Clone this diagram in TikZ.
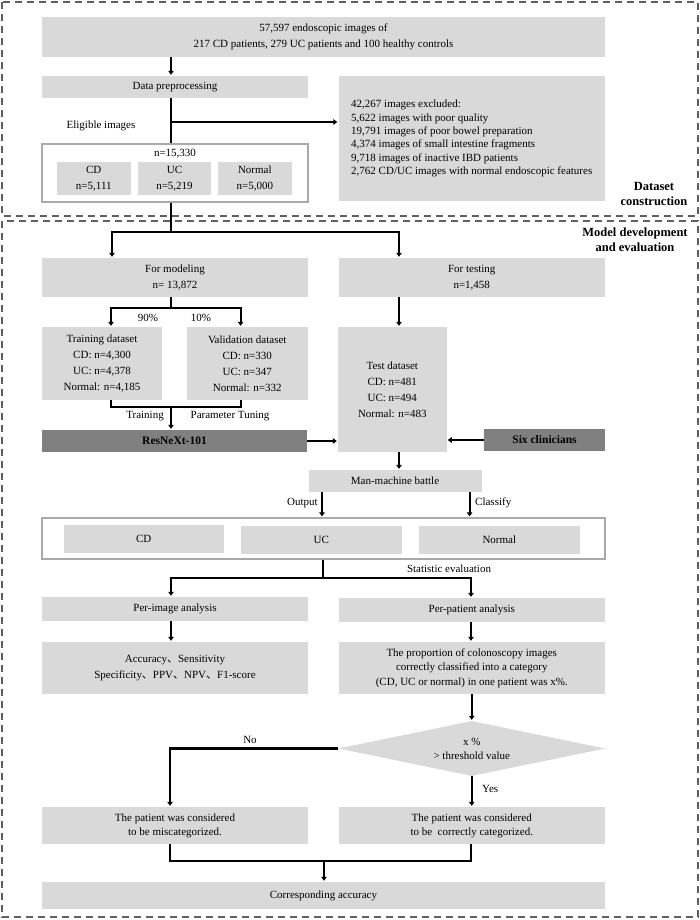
\documentclass[tikz,border=0pt]{standalone}
\usepackage{fontspec}
\setmainfont{Liberation Serif}
\newfontfamily\cjkfont{Noto Sans CJK SC}
\usetikzlibrary{arrows.meta,shapes.geometric}
\definecolor{boxgray}{HTML}{D9D9D9}
\definecolor{darkbox}{HTML}{808080}
\definecolor{framegray}{HTML}{A9A9A9}
\definecolor{dashgray}{HTML}{606060}
\begin{document}
\begin{tikzpicture}[x=1pt,y=-1pt,
  box/.style={fill=boxgray, inner sep=0pt, align=center, font=\fontsize{11}{16}\selectfont},
  wbox/.style={fill=white, draw=framegray, line width=1.2pt, inner sep=0pt},
  dbox/.style={fill=darkbox, inner sep=0pt, font=\bfseries\fontsize{11.5}{14}\selectfont},
  conn/.style={line width=2.2pt, black},
  arr/.style={conn, -{Triangle[length=4pt,width=5.5pt]}, shorten >=1pt},
  lbl/.style={font=\fontsize{11}{14}\selectfont, inner sep=0pt},
  sec/.style={font=\bfseries\fontsize{12.5}{14.5}\selectfont, align=center, inner sep=0pt},
  frame/.style={draw=dashgray, line width=1.4pt, dash pattern=on 7pt off 5pt}]
\useasboundingbox (0,0) rectangle (700,920);
\fill[white] (0,0) rectangle (700,920);
% frames
\draw[frame] (2,2) rectangle (698,216);
\draw[frame] (2,221) rectangle (698,917);
\node[sec] (dsl) at (654,194) {Dataset\\construction};
\node[sec] (mdl) at (635,239.5) {Model development\\and evaluation};
% column coordinates
\coordinate (cL) at (171,0);
\coordinate (cR) at (471,0);
\coordinate (aL) at (112,0);
\coordinate (aR) at (399,0);
\coordinate (bL) at (111,0);
\coordinate (bR) at (240.6,0);
\coordinate (oL) at (322,0);
\coordinate (oR) at (469.6,0);
\coordinate (nL) at (170,0);
% dataset construction
\node[box, minimum width=563pt, minimum height=40pt] (top) at (323.5,37) {57,597 endoscopic images of\\217 CD patients, 279 UC patients and 100 healthy controls};
\node[box, minimum width=266pt, minimum height=22pt] (prep) at (175,87) {Data preprocessing};
\node[box, minimum width=266.5pt, minimum height=125pt, align=left, font=\fontsize{11}{13.3}\selectfont] (excl) at (471.75,138.5) {42,267 images excluded:\\5,622 images with poor quality\\19,791 images of poor bowel preparation\\4,374 images of small intestine fragments\\9,718 images of inactive IBD patients\\2,762 CD/UC images with normal endoscopic features};
\node[wbox, minimum width=266pt, minimum height=58pt] (elig) at (175,173) {};
\node[lbl] (ntot) at (175,154) {n=15,330};
\node[box, minimum width=73.6pt, minimum height=33pt] (ecd) at (93.8,178.5) {CD\\n=5,111};
\node[box, minimum width=73pt, minimum height=33pt] (euc) at (174.5,178.5) {UC\\n=5,219};
\node[box, minimum width=73.6pt, minimum height=33pt] (enor) at (254.8,178.5) {Normal\\n=5,000};
\node[lbl] (elab) at (101,126) {Eligible images};
\draw[arr] (top.south -| cL) -- (prep.north -| cL);
\coordinate (br) at (171,122);
\draw[conn] (prep.south -| cL) -- (elig.north -| cL);
\draw[arr] (br) -- (br -| excl.west);
% model development
\node[box, minimum width=266pt, minimum height=39pt] (model) at (175,277.5) {For modeling\\n= 13,872};
\node[box, minimum width=266.5pt, minimum height=39pt] (testing) at (471.75,277.5) {For testing\\n=1,458};
\coordinate (s1) at (171,232);
\draw[conn] (elig.south -| s1) -- (s1);
\draw[arr] (s1) -| (model.north -| aL);
\draw[arr] (s1) -| (testing.north -| aR);
\node[box, minimum width=120pt, minimum height=73pt] (train) at (102,363.5) {Training dataset\\CD: n=4,300\\UC: n=4,378\\Normal: n=4,185};
\node[box, minimum width=121.5pt, minimum height=73pt] (val) at (247.25,363.5) {Validation dataset\\CD: n=330\\UC: n=347\\Normal: n=332};
\coordinate (s2) at (171,308);
\draw[conn] (model.south -| s2) -- (s2);
\draw[arr] (s2) -| (train.north -| bL);
\draw[arr] (s2) -| (val.north -| bR);
\node[lbl] (p90) at (148,318) {90\%};
\node[lbl] (p10) at (201,318) {10\%};
\node[box, minimum width=108.5pt, minimum height=125pt] (testds) at (392.3,389.5) {Test dataset\\CD: n=481\\UC: n=494\\Normal: n=483};
\draw[arr] (testing.south -| aR) -- (testds.north -| aR);
\node[dbox, minimum width=265pt, minimum height=22pt] (resnext) at (174.5,441) {ResNeXt-101};
\node[dbox, minimum width=121pt, minimum height=22pt] (six) at (544.5,440) {Six clinicians};
\coordinate (s3) at (171,407);
\draw[conn] (train.south -| bL) |- (s3);
\draw[conn] (val.south -| bR) |- (s3);
\draw[arr] (s3) -- (resnext.north -| s3);
\node[lbl] (ltrain) at (145,416) {Training};
\node[lbl] (ltune) at (230,416) {Parameter Tuning};
\draw[arr] (resnext.east) -- (resnext.east -| testds.west);
\draw[arr] (six.west) -- (six.west -| testds.east);
\node[box, minimum width=173pt, minimum height=22pt] (mm) at (395,481) {Man-machine battle};
\draw[arr] (testds.south -| aR) -- (mm.north -| aR);
\node[wbox, minimum width=563pt, minimum height=41pt] (outbox) at (323.5,538.5) {};
\node[box, minimum width=160.5pt, minimum height=28pt] (ocd) at (143.75,538.5) {CD};
\node[box, minimum width=160.6pt, minimum height=28pt] (ouc) at (321.3,540) {UC};
\node[box, minimum width=161.4pt, minimum height=28pt] (onor) at (499.3,540) {Normal};
\draw[arr] (mm.south -| oL) -- (outbox.north -| oL);
\draw[arr] (mm.south -| oR) -- (outbox.north -| oR);
\node[lbl, anchor=east] (lout) at (318,503) {Output};
\node[lbl, anchor=west] (lcla) at (475,503) {Classify};
% evaluation
\node[box, minimum width=266pt, minimum height=24pt] (perimg) at (175,609) {Per-image analysis};
\node[box, minimum width=266.5pt, minimum height=24pt] (perpat) at (471.75,610) {Per-patient analysis};
\coordinate (s4) at (323,578);
\draw[conn] (outbox.south -| s4) -- (s4);
\draw[arr] (s4) -| (perimg.north -| cL);
\draw[arr] (s4) -| (perpat.north -| cR);
\node[lbl] (lstat) at (449,569) {Statistic evaluation};
\node[box, minimum width=266pt, minimum height=52pt] (acc) at (175,668) {Accuracy{\cjkfont 、}Sensitivity\\Specificity{\cjkfont 、}PPV{\cjkfont 、}NPV{\cjkfont 、}F1-score};
\node[box, minimum width=266.5pt, minimum height=52pt, font=\fontsize{11}{14.5}\selectfont] (prop) at (471.75,668) {The proportion of colonoscopy images\\correctly classified into a category\\(CD, UC or normal) in one patient was x\%.};
\draw[arr] (perimg.south -| cL) -- (acc.north -| cL);
\draw[arr] (perpat.south -| cR) -- (prop.north -| cR);
\node[diamond, fill=boxgray, inner sep=0pt, aspect=4.85, minimum width=266.5pt, minimum height=55pt, align=center, font=\fontsize{11}{14}\selectfont] (dia) at (471.75,748.5) {x \%\\> threshold value};
\draw[arr] (prop.south -| dia.north) -- (dia.north);
\node[box, minimum width=266pt, minimum height=37pt, font=\fontsize{11}{14}\selectfont] (mis) at (175,825.5) {The patient was considered\\to be miscategorized.};
\node[box, minimum width=266.5pt, minimum height=37pt, font=\fontsize{11}{14}\selectfont] (corr) at (471.75,825.5) {The patient was considered\\to be\ \ correctly categorized.};
\draw[arr] (dia.west) -| (mis.north -| nL);
\draw[arr] (dia.south) -- (dia.south |- corr.north);
\node[lbl] (lno) at (250,740) {No};
\node[lbl, anchor=west] (lyes) at (482,789) {Yes};
\node[box, minimum width=563pt, minimum height=27pt] (final) at (323.5,895.5) {Corresponding accuracy};
\coordinate (s5) at (324,861);
\draw[conn] (mis.south -| nL) |- (s5);
\draw[conn] (corr.south -| cR) |- (s5);
\draw[arr] (s5) -- (final.north -| s5);
\end{tikzpicture}
\end{document}
